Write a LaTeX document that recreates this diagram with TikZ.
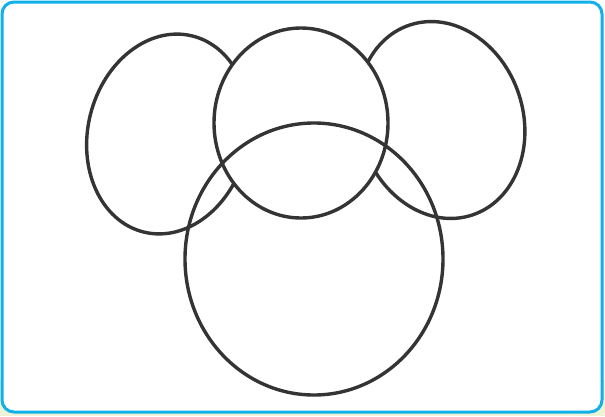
\documentclass[tikz,border=0pt]{standalone}
\usepackage{tikz}
\definecolor{cframe}{RGB}{18, 176, 232}
\definecolor{cring}{RGB}{52, 52, 52}
\definecolor{cpale}{RGB}{238, 243, 214}
\tikzset{
  frame/.style={draw=cframe, line width=3pt, rounded corners=12pt, fill=white},
  ring/.style={draw=cring, line width=3.4pt},
}

\begin{document}
\begin{tikzpicture}[x=1pt, y=-1pt]
\useasboundingbox (0,0) rectangle (605,416);

% ---------- background and frame ----------
\fill[white] (0,0) rectangle (605,380);
\fill[cpale] (0,380) rectangle (605,416);
\draw[frame] (2,2) rectangle (602,412);

% ---------- side rings (behind the top ring) ----------
\draw[ring] (168,134) ellipse [x radius=80, y radius=101, rotate=-14];
\draw[ring] (441,120) ellipse [x radius=82, y radius=100, rotate=18];

% ---------- top ring hides them, big ring on top ----------
\draw[ring, fill=white] (301,123) ellipse [x radius=87, y radius=95];
\draw[ring] (314,259) ellipse [x radius=129, y radius=136];

\end{tikzpicture}
\end{document}
